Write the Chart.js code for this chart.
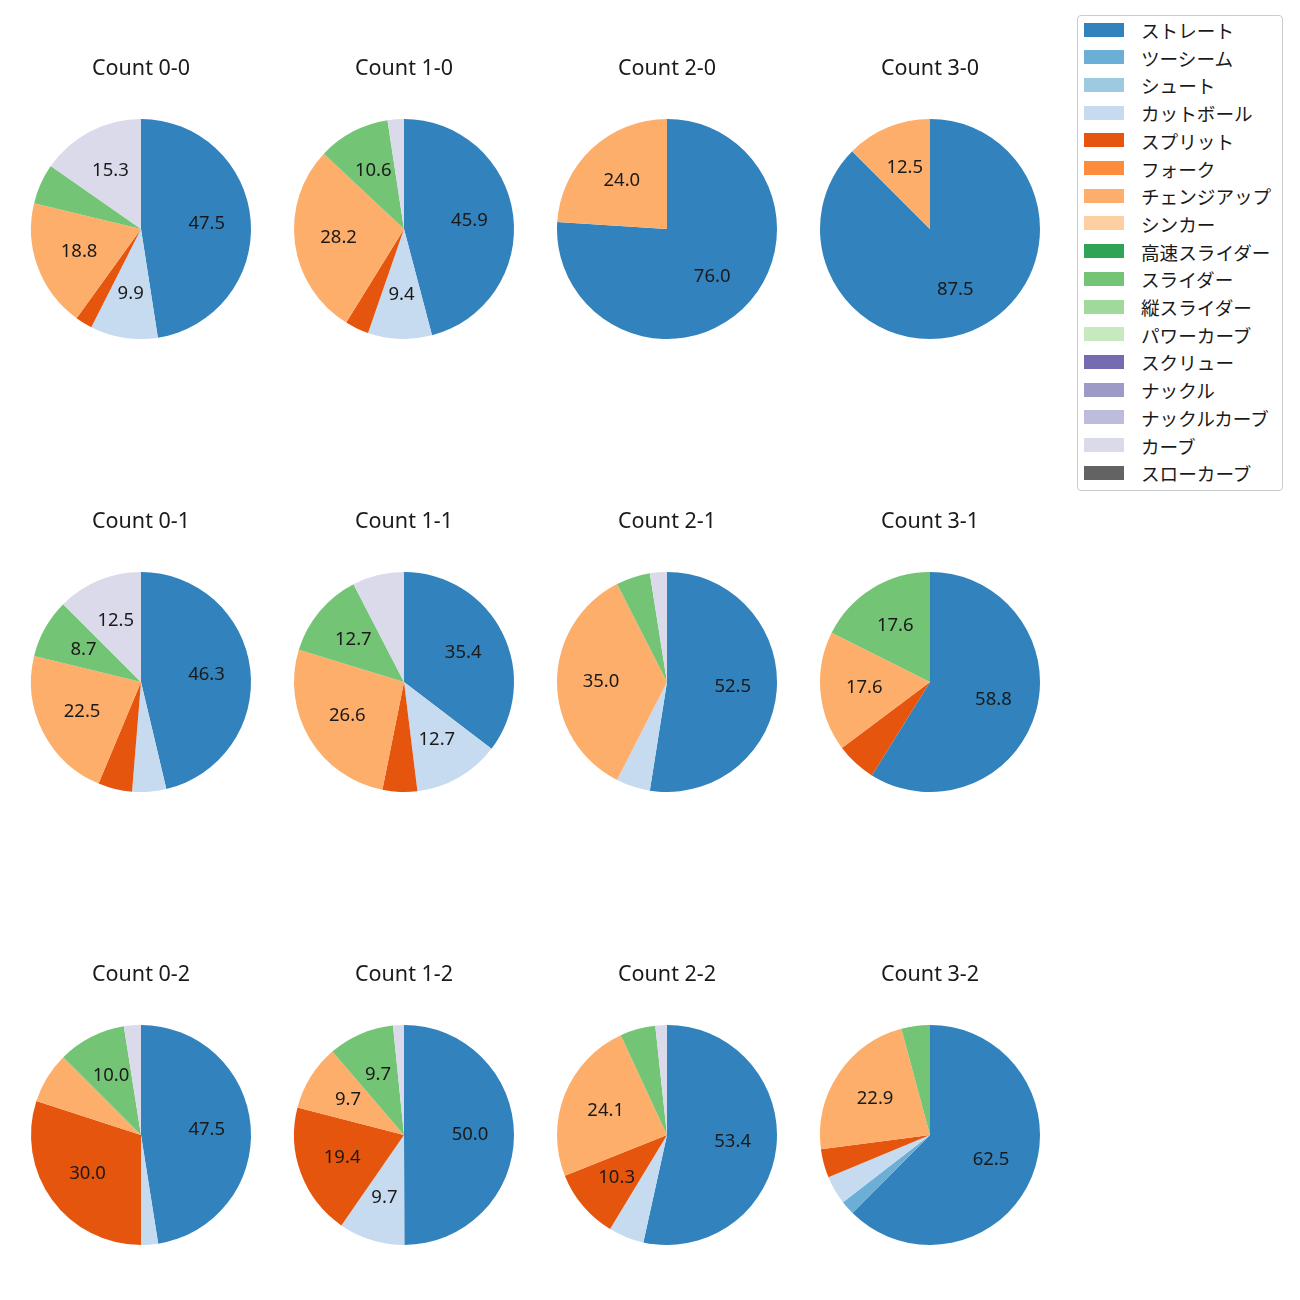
<!DOCTYPE html>
<html>
<head>
<meta charset="utf-8">
<script src="https://cdn.jsdelivr.net/npm/chart.js@4"></script>
<style>
  body { margin: 0; background: #fff; font-family: 'Noto Sans', 'Noto Sans CJK JP', sans-serif; }
  #wrap { position: relative; width: 1300px; height: 1300px; }
  .pie { position: absolute; }
  #legend {
    position: absolute; left: 1077px; top: 15px; width: 206px; height: 476px;
    border: 1px solid #ccc; border-radius: 4px; box-sizing: border-box;
  }
  .item { position: absolute; left: 6px; height: 20px; display: flex; align-items: center; }
  .sw { width: 40px; height: 14px; margin-right: 17px; }
  .lbl { font-family: 'Noto Sans CJK JP', sans-serif; font-size: 18.6px; color: #1a1a1a; white-space: nowrap; }
</style>
</head>
<body>
<div id="wrap">
  <div id="legend"></div>
</div>
<script>
const pitchTypes = ['ストレート', 'ツーシーム', 'シュート', 'カットボール', 'スプリット', 'フォーク',
  'チェンジアップ', 'シンカー', '高速スライダー', 'スライダー', '縦スライダー', 'パワーカーブ',
  'スクリュー', 'ナックル', 'ナックルカーブ', 'カーブ', 'スローカーブ'];
const pitchColors = ['#3182bd', '#6baed6', '#9ecae1', '#c6dbef', '#e6550d', '#fd8d3c',
  '#fdae6b', '#fdd0a2', '#31a354', '#74c476', '#a1d99b', '#c7e9c0',
  '#756bb1', '#9e9ac8', '#bcbddc', '#dadaeb', '#636363'];

// percentages per count, same order as pitchTypes
const count00 = [47.5, 0, 0, 9.9, 2.5, 0, 18.8, 0, 0, 5.9, 0, 0, 0, 0, 0, 15.3, 0];
const count10 = [45.9, 0, 0, 9.4, 3.5, 0, 28.2, 0, 0, 10.6, 0, 0, 0, 0, 0, 2.4, 0];
const count20 = [76.0, 0, 0, 0, 0, 0, 24.0, 0, 0, 0, 0, 0, 0, 0, 0, 0, 0];
const count30 = [87.5, 0, 0, 0, 0, 0, 12.5, 0, 0, 0, 0, 0, 0, 0, 0, 0, 0];
const count01 = [46.3, 0, 0, 5.0, 5.0, 0, 22.5, 0, 0, 8.7, 0, 0, 0, 0, 0, 12.5, 0];
const count11 = [35.4, 0, 0, 12.7, 5.1, 0, 26.6, 0, 0, 12.7, 0, 0, 0, 0, 0, 7.6, 0];
const count21 = [52.5, 0, 0, 5.0, 0, 0, 35.0, 0, 0, 5.0, 0, 0, 0, 0, 0, 2.5, 0];
const count31 = [58.8, 0, 0, 0, 5.9, 0, 17.6, 0, 0, 17.6, 0, 0, 0, 0, 0, 0, 0];
const count02 = [47.5, 0, 0, 2.5, 30.0, 0, 7.5, 0, 0, 10.0, 0, 0, 0, 0, 0, 2.5, 0];
const count12 = [50.0, 0, 0, 9.7, 19.4, 0, 9.7, 0, 0, 9.7, 0, 0, 0, 0, 0, 1.6, 0];
const count22 = [53.4, 0, 0, 5.2, 10.3, 0, 24.1, 0, 0, 5.2, 0, 0, 0, 0, 0, 1.7, 0];
const count32 = [62.5, 2.1, 0, 4.2, 4.2, 0, 22.9, 0, 0, 4.2, 0, 0, 0, 0, 0, 0, 0];

const countTitles = ['Count 0-0', 'Count 1-0', 'Count 2-0', 'Count 3-0',
  'Count 0-1', 'Count 1-1', 'Count 2-1', 'Count 3-1',
  'Count 0-2', 'Count 1-2', 'Count 2-2', 'Count 3-2'];
const countData = [count00, count10, count20, count30,
  count01, count11, count21, count31,
  count02, count12, count22, count32];

const FONT = "'Noto Sans', 'Noto Sans CJK JP', sans-serif";

// percentage text inside slices
const sliceLabels = {
  id: 'sliceLabels',
  afterDatasetsDraw(chart) {
    const ctx = chart.ctx;
    const ds = chart.data.datasets[0];
    chart.getDatasetMeta(0).data.forEach((arc, i) => {
      const v = ds.data[i];
      if (v < 8) return;
      const mid = (arc.startAngle + arc.endAngle) / 2;
      const r = arc.outerRadius * 0.6;
      ctx.save();
      ctx.font = '18.5px ' + FONT;
      ctx.fillStyle = '#1a1a1a';
      ctx.textAlign = 'center';
      ctx.textBaseline = 'middle';
      ctx.fillText(v.toFixed(1), arc.x + Math.cos(mid) * r, arc.y + Math.sin(mid) * r);
      ctx.restore();
    });
  }
};

const colX = [141, 404, 667, 930];
const rowY = [229, 682, 1135];
const R = 110;
const titleSize = 21.5;
const titleBox = 63; // title line + gap above pie
const wrap = document.getElementById('wrap');

countData.forEach((vals, k) => {
  const cx = colX[k % 4], cy = rowY[Math.floor(k / 4)];
  const cv = document.createElement('canvas');
  cv.className = 'pie';
  cv.width = 2 * R + 40;
  cv.height = Math.round(2 * R + titleBox);
  cv.style.width = cv.width + 'px';
  cv.style.height = cv.height + 'px';
  cv.style.left = (cx - R - 20) + 'px';
  cv.style.top = Math.round(cy - R - titleBox) + 'px';
  wrap.appendChild(cv);

  new Chart(cv, {
    type: 'pie',
    data: {
      labels: pitchTypes,
      datasets: [{
        data: vals,
        backgroundColor: pitchColors,
        borderWidth: 0
      }]
    },
    options: {
      responsive: false,
      animation: false,
      layout: { padding: { left: 20, right: 20 } },
      plugins: {
        legend: { display: false },
        tooltip: { enabled: false },
        title: {
          display: true,
          text: countTitles[k],
          color: '#1a1a1a',
          font: { family: FONT, size: titleSize, weight: 'normal', lineHeight: 1.2 },
          padding: { top: 0, bottom: titleBox - titleSize * 1.2 }
        }
      }
    },
    plugins: [sliceLabels]
  });
});

// legend
const legend = document.getElementById('legend');
pitchTypes.forEach((name, i) => {
  const it = document.createElement('div');
  it.className = 'item';
  it.style.top = (3.5 + i * 27.7) + 'px';
  it.innerHTML = '<div class="sw" style="background:' + pitchColors[i] + '"></div><span class="lbl">' + name + '</span>';
  legend.appendChild(it);
});
</script>
</body>
</html>
